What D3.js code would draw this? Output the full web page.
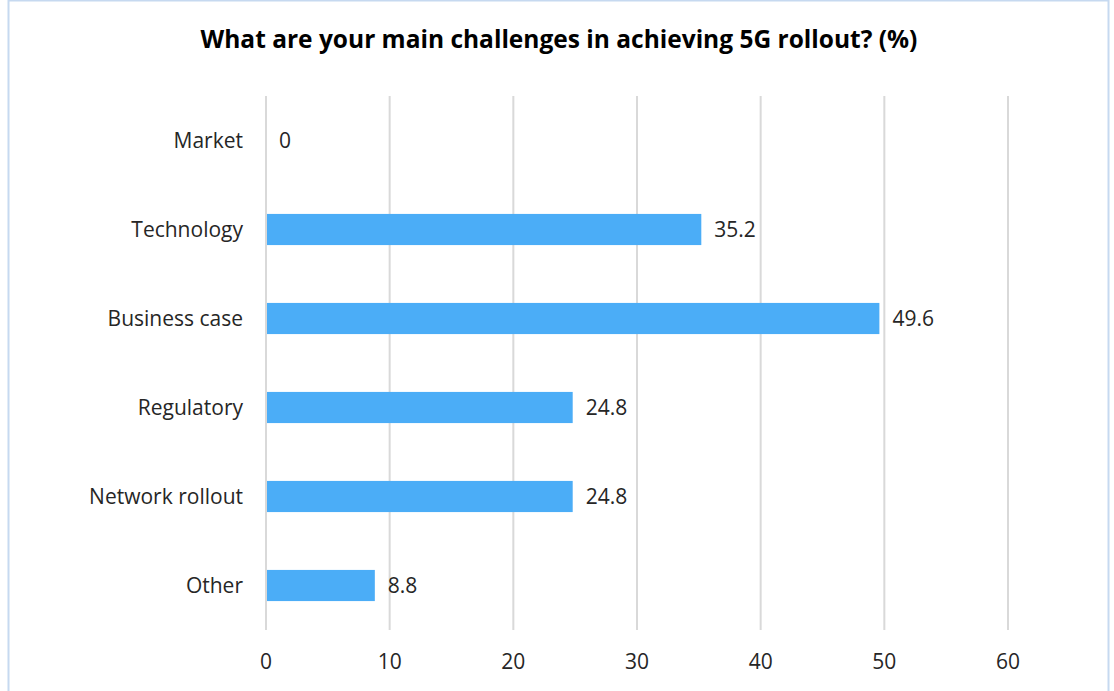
<!DOCTYPE html>
<html>
<head>
<meta charset="utf-8">
<script src="https://d3js.org/d3.v7.min.js"></script>
<style>
  body { margin: 0; background: #fff; }
  text { font-family: "Open Sans", sans-serif; }
</style>
</head>
<body>
<div id="chart"></div>
<script>
// chart data
var categories = ["Market", "Technology", "Business case", "Regulatory", "Network rollout", "Other"];
var values = [0, 35.2, 49.6, 24.8, 24.8, 8.8];
var tickValues = [0, 10, 20, 30, 40, 50, 60];

var W = 1114, H = 691;
var svg = d3.select("#chart").append("svg")
    .attr("width", W).attr("height", H);

// outer frame
svg.append("rect")
    .attr("x", 8.5).attr("y", 0.5)
    .attr("width", 1100).attr("height", H + 10)
    .attr("fill", "#fff")
    .attr("stroke", "#c6d9f0").attr("stroke-width", 2);

var plotLeft = 266, plotRight = 1008, plotTop = 96, plotBottom = 630;

var x = d3.scaleLinear().domain([0, 60]).range([plotLeft, plotRight]);
var y = d3.scaleBand().domain(categories).range([plotTop, plotBottom]).paddingInner(0.65).paddingOuter(0.325);

// gridlines
svg.append("g").selectAll("line")
    .data(tickValues)
    .join("line")
    .attr("x1", d => x(d)).attr("x2", d => x(d))
    .attr("y1", plotTop).attr("y2", plotBottom)
    .attr("stroke", "#d9d9d9").attr("stroke-width", 2);

// bars
svg.append("g").selectAll("rect")
    .data(values)
    .join("rect")
    .attr("x", x(0) + 1)
    .attr("y", (d, i) => y(categories[i]))
    .attr("width", d => Math.max(0, x(d) - x(0) - 1))
    .attr("height", y.bandwidth())
    .attr("fill", "#4badf7");

// value labels
svg.append("g").selectAll("text")
    .data(values)
    .join("text")
    .attr("x", d => x(d) + 13)
    .attr("y", (d, i) => y(categories[i]) + y.bandwidth() / 2)
    .attr("dy", "0.35em")
    .attr("font-size", 21)
    .attr("fill", "#262626")
    .text(d => d);

// category labels
svg.append("g").selectAll("text")
    .data(categories)
    .join("text")
    .attr("x", plotLeft - 23)
    .attr("y", d => y(d) + y.bandwidth() / 2)
    .attr("dy", "0.35em")
    .attr("text-anchor", "end")
    .attr("font-size", 21)
    .attr("fill", "#262626")
    .text(d => d);

// x axis tick labels
svg.append("g").selectAll("text")
    .data(tickValues)
    .join("text")
    .attr("x", d => x(d))
    .attr("y", 662)
    .attr("dy", "0.35em")
    .attr("text-anchor", "middle")
    .attr("font-size", 21)
    .attr("fill", "#262626")
    .text(d => d);

// title
svg.append("text")
    .attr("x", 559).attr("y", 48)
    .attr("text-anchor", "middle")
    .attr("font-size", 24.5)
    .attr("font-weight", "bold")
    .attr("fill", "#000")
    .text("What are your main challenges in achieving 5G rollout? (%)");
</script>
</body>
</html>
